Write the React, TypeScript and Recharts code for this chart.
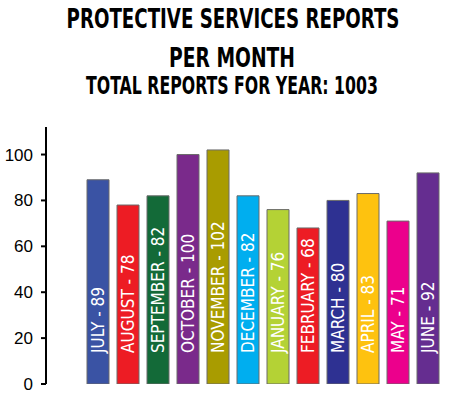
import React from 'react';
import { BarChart, Bar, XAxis, YAxis, Cell, LabelList } from 'recharts';

const months = ['JULY', 'AUGUST', 'SEPTEMBER', 'OCTOBER', 'NOVEMBER', 'DECEMBER', 'JANUARY', 'FEBRUARY', 'MARCH', 'APRIL', 'MAY', 'JUNE'];
const reports = [89, 78, 82, 100, 102, 82, 76, 68, 80, 83, 71, 92];
const barColors = ['#3a53a4', '#ed1c24', '#136a38', '#7a2a8b', '#a99c00', '#00aeef', '#b4d235', '#ed1c24', '#2e3192', '#fec20f', '#ec008c', '#652d90'];
const yTicks = [0, 20, 40, 60, 80, 100];
const titleLines = ['PROTECTIVE SERVICES REPORTS', 'PER MONTH', 'TOTAL REPORTS FOR YEAR: 1003'];

const data = months.map((m, i) => ({ month: m, value: reports[i], label: `${m} - ${reports[i]}` }));

const condensed = "'Liberation Sans Narrow', 'DejaVu Sans Condensed', 'Arial Narrow', sans-serif";

const BarLabel = (props: any) => {
  const { x, y, width, height, value } = props;
  const cx = x + width / 2;
  const bottom = y + height - 31;
  return (
    <text
      x={cx}
      y={bottom}
      transform={`rotate(-90 ${cx} ${bottom})`}
      textAnchor="start"
      dominantBaseline="central"
      fill="#ffffff"
      fontFamily={condensed}
      fontSize={17}
    >
      {value}
    </text>
  );
};

export default function App() {
  return (
    <div style={{ position: 'absolute', left: 0, top: 0, width: 465, height: 399, background: '#fff' }}>
      <svg width={465} height={110} style={{ position: 'absolute', left: 0, top: 0 }}>
        <text transform="translate(233,28) scale(0.75,1)" textAnchor="middle" fontFamily={condensed} fontWeight="bold" fontSize={27} fill="#000">{titleLines[0]}</text>
        <text transform="translate(232,67) scale(0.77,1)" textAnchor="middle" fontFamily={condensed} fontWeight="bold" fontSize={27} fill="#000">{titleLines[1]}</text>
        <text transform="translate(232,94) scale(0.73,1)" textAnchor="middle" fontFamily={condensed} fontWeight="bold" fontSize={24} fill="#000">{titleLines[2]}</text>
      </svg>
      <BarChart
        width={465}
        height={399}
        data={data}
        margin={{ top: 127, right: 0, bottom: 15, left: 0 }}
        barSize={22}
      >
        <XAxis
          dataKey="month"
          tick={false}
          tickLine={false}
          height={0}
          padding={{ left: 37, right: 22 }}
          axisLine={{ stroke: '#000', strokeWidth: 2 }}
        />
        <YAxis
          width={46}
          domain={[0, 112]}
          ticks={yTicks}
          allowDataOverflow
          axisLine={{ stroke: '#000', strokeWidth: 2 }}
          tickLine={{ stroke: '#000', strokeWidth: 2 }}
          tickSize={5}
          tickMargin={8}
          tick={{ fill: '#000', fontSize: 17, fontFamily: "'Liberation Sans', Arial, sans-serif" }}
        />
        <Bar dataKey="value" isAnimationActive={false} stroke="#6b6b6b" strokeWidth={1}>
          {data.map((d, i) => (
            <Cell key={d.month} fill={barColors[i]} />
          ))}
          <LabelList dataKey="label" content={<BarLabel />} />
        </Bar>
      </BarChart>
    </div>
  );
}
